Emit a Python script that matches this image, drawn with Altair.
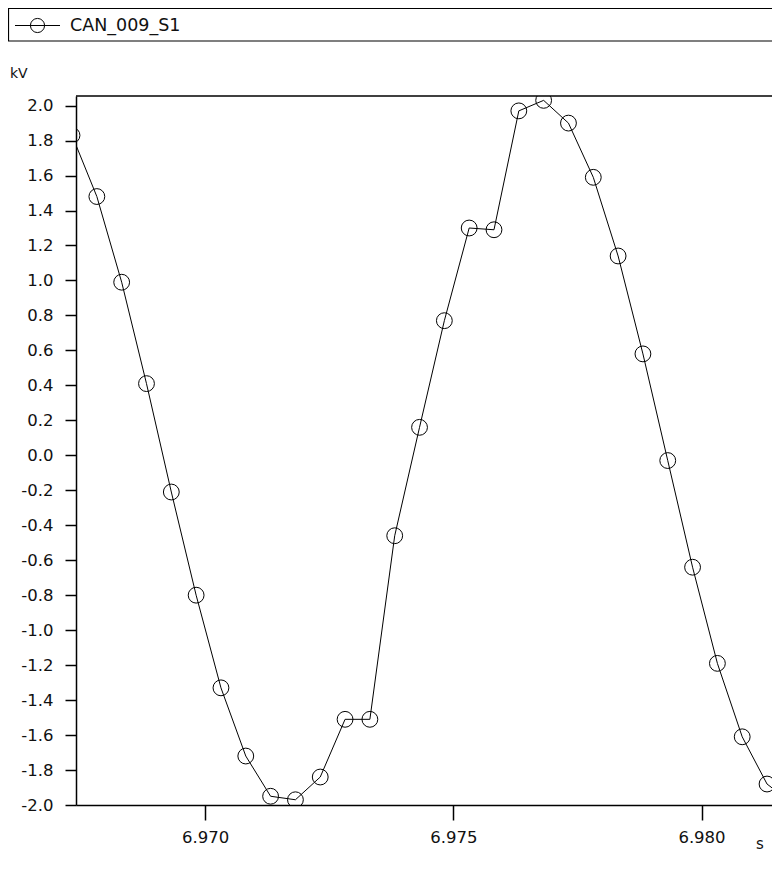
import altair as alt
import pandas as pd

series_name = "CAN_009_S1"
y_unit = "kV"
x_unit = "s"

time_s = [6.96732, 6.96782, 6.96832, 6.96882, 6.96932, 6.96982, 6.97032, 6.97082,
          6.97132, 6.97182, 6.97232, 6.97282, 6.97332, 6.97382, 6.97432, 6.97482,
          6.97532, 6.97582, 6.97632, 6.97682, 6.97732, 6.97782, 6.97832, 6.97882,
          6.97932, 6.97982, 6.98032, 6.98082, 6.98132, 6.98182]
voltage_kv = [1.83, 1.48, 0.99, 0.41, -0.21, -0.80, -1.33, -1.72,
              -1.95, -1.97, -1.84, -1.51, -1.51, -0.46, 0.16, 0.77,
              1.30, 1.29, 1.97, 2.03, 1.90, 1.59, 1.14, 0.58,
              -0.03, -0.64, -1.19, -1.61, -1.88, -1.99]

x_ticks = [6.970, 6.975, 6.980]
y_ticks = [2.0, 1.8, 1.6, 1.4, 1.2, 1.0, 0.8, 0.6, 0.4, 0.2, 0.0,
           -0.2, -0.4, -0.6, -0.8, -1.0, -1.2, -1.4, -1.6, -1.8, -2.0]
x_domain = [6.96740, 6.98142]
y_domain = [-2.0, 2.055]

W, H = 696, 709
FONT = "DejaVu Sans"

df = pd.DataFrame({"t": time_s, "v": voltage_kv})
one = pd.DataFrame({"a": [0]})

xs = alt.Scale(domain=x_domain, nice=False, zero=False)
ys = alt.Scale(domain=y_domain, nice=False, zero=False)

base = alt.Chart(df).encode(
    x=alt.X("t:Q", scale=xs, axis=alt.Axis(
        values=x_ticks, format=".3f", title=None, grid=False,
        tickSize=15, labelPadding=9, labelFlush=False, labelOverlap=False)),
    y=alt.Y("v:Q", scale=ys, axis=alt.Axis(
        values=y_ticks, title=None, grid=False, tickSize=11, labelPadding=12,
        labelFlush=False, labelOverlap=False,
        labelExpr="replace(format(datum.value, '.1f'), '\u2212', '-')")),
)

line = base.mark_line(color="black", strokeWidth=1, clip=True)
pts = base.mark_point(shape="circle", size=250, color="black", filled=False,
                      strokeWidth=1, clip=True, opacity=1)

top_rule = alt.Chart(one).mark_rule(color="black", strokeWidth=1.5).encode(
    x=alt.value(0), x2=alt.value(W + 40), y=alt.value(0))

legend_box = alt.Chart(one).mark_rect(fillOpacity=0, stroke="black", strokeWidth=1.2).encode(
    x=alt.value(-67.5), x2=alt.value(W + 60), y=alt.value(-87.5), y2=alt.value(-55))
legend_line = alt.Chart(one).mark_rule(color="black", strokeWidth=1).encode(
    x=alt.value(-61), x2=alt.value(-16), y=alt.value(-70.5))
legend_pt = alt.Chart(one).mark_point(shape="circle", size=200, color="black", filled=False,
                                      strokeWidth=1, opacity=1).encode(
    x=alt.value(-38.5), y=alt.value(-70.5))
legend_txt = alt.Chart(one).mark_text(text=series_name, align="left", baseline="middle",
                                      font=FONT, fontSize=17.5, color="#111").encode(
    x=alt.value(-6), y=alt.value(-70))

ylab = alt.Chart(one).mark_text(text=y_unit, align="left", baseline="alphabetic",
                                font=FONT, fontSize=14, color="#111").encode(
    x=alt.value(-66), y=alt.value(-18))
xlab = alt.Chart(one).mark_text(text=x_unit, align="left", baseline="alphabetic",
                                font=FONT, fontSize=15, color="#111").encode(
    x=alt.value(W - 16), y=alt.value(H + 44))

chart = alt.layer(line, pts, top_rule, legend_box, legend_line, legend_pt, legend_txt,
                  ylab, xlab).properties(
    width=W, height=H,
    padding={"left": 68, "top": 88, "right": 0, "bottom": 52},
    autosize=alt.AutoSizeParams(type="none"),
).configure_view(strokeWidth=0).configure_axis(
    domainColor="black", domainWidth=1.5, tickColor="black", tickWidth=1.5,
    labelColor="#111", labelFont=FONT, labelFontSize=16.5,
)

chart.save("out.html", embed_options={"renderer": "svg", "actions": False})
